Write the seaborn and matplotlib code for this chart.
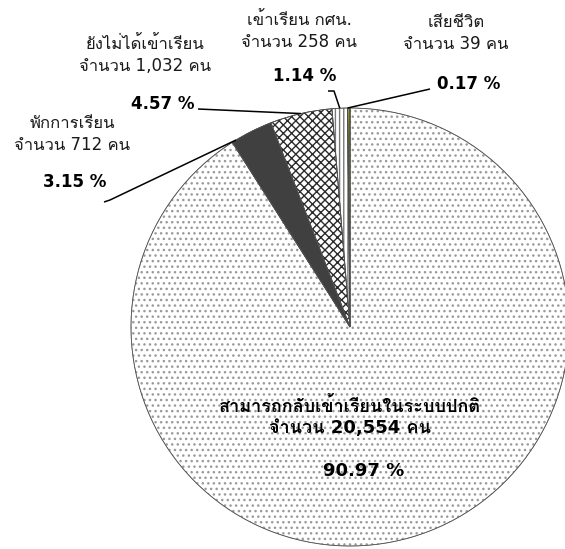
import numpy as np
import matplotlib
matplotlib.use('Agg')
import matplotlib.pyplot as plt
import seaborn as sns
from matplotlib import font_manager
from fontTools.ttLib import TTFont

# --- DATA ---
groups = ['สามารถกลับเข้าเรียนในระบบปกติ', 'พักการเรียน', 'ยังไม่ได้เข้าเรียน',
          'เข้าเรียน กศน.', 'เสียชีวิต']
counts = [20554, 712, 1032, 258, 39]
percents = [90.97, 3.15, 4.57, 1.14, 0.17]

# --- STYLE ---
face_colors = ['white', '#404040', 'white', 'white', '#a3a31f']
hatch_colors = ['#9a9a9a', '#404040', '#2b2b2b', '#7a7a7a', '#222222']
hatches = ['...', '', 'xxxx', '||||', '']

W, H = 565, 549


def find_thai_font():
    """Look for an installed font that has Thai glyphs."""
    for f in font_manager.fontManager.ttflist:
        try:
            cmap = TTFont(f.fname, fontNumber=0, lazy=True).getBestCmap()
        except Exception:
            continue
        if cmap and 0x0E01 in cmap and 0x0E33 in cmap:
            return f.name
    return 'DejaVu Sans'


sns.set_theme(style='white')
thai = find_thai_font()
# DejaVu for latin/digits (wide, Tahoma-like), Thai falls through to the Thai font
plt.rcParams['font.family'] = ['DejaVu Sans', thai]


def px(x, y):
    # picture pixels (y from top) -> data coords
    return x, H - y


fig = plt.figure(figsize=(W / 100, H / 100), dpi=100)
ax = fig.add_axes([0, 0, 1, 1])

cx, cy = px(350, 327)
R = 219

wedges, _ = ax.pie(counts, startangle=90, counterclock=False, center=(cx, cy),
                   radius=R, colors=face_colors, hatch=hatches,
                   wedgeprops=dict(linewidth=0.5))
for w, hc in zip(wedges, hatch_colors):
    w.set_edgecolor(hc)

# thin outline on top
outline, _ = ax.pie(counts, startangle=90, counterclock=False, center=(cx, cy),
                    radius=R, colors=['none'] * len(counts),
                    wedgeprops=dict(linewidth=0.6, edgecolor='#505050', fill=False))

ax.set_xlim(0, W)
ax.set_ylim(0, H)
ax.set_aspect('auto')
ax.axis('off')


def edge_point(w, frac=0.5):
    ang = np.deg2rad(w.theta1 + (w.theta2 - w.theta1) * frac)
    return cx + R * np.cos(ang), cy + R * np.sin(ang)


# --- LABELS ---
fs = 12
label_pos = {1: (72, 134), 2: (145, 55), 3: (299, 31), 4: (456, 33)}
pct_pos = {1: (75, 182), 2: (163, 104), 3: (305, 76), 4: (469, 84)}

for i, (x, y) in label_pos.items():
    ax.text(*px(x, y), f'{groups[i]}\nจำนวน {counts[i]:,} คน', ha='center', va='center',
            fontsize=fs, color='#1a1a1a', linespacing=1.25)
for i, (x, y) in pct_pos.items():
    ax.text(*px(x, y), f'{percents[i]:.2f} %', ha='center', va='center',
            fontsize=fs, fontweight='bold', color='black')

# main slice label inside
ax.text(*px(350, 417), f'{groups[0]}\nจำนวน {counts[0]:,} คน', ha='center', va='center',
        fontsize=13, fontweight='bold', color='black', linespacing=1.15)
ax.text(*px(364, 471), f'{percents[0]:.2f} %', ha='center', va='center',
        fontsize=13, fontweight='bold', color='black')

# leader lines: (start points in picture px, wedge, fraction along wedge)
leaders = [
    ([(104, 202), (110, 200)], wedges[1], 0.9),
    ([(198, 109)], wedges[2], 0.5),
    ([(328, 91), (334, 91)], wedges[3], 0.5),
    ([(430, 89)], wedges[4], 1.0),
]
for pts, w, frac in leaders:
    xs = [px(x, y)[0] for x, y in pts]
    ys = [px(x, y)[1] for x, y in pts]
    ex, ey = edge_point(w, frac)
    ax.plot(xs + [ex], ys + [ey], color='black', linewidth=1.1, solid_capstyle='butt')

fig.savefig('out.png', dpi=100)
